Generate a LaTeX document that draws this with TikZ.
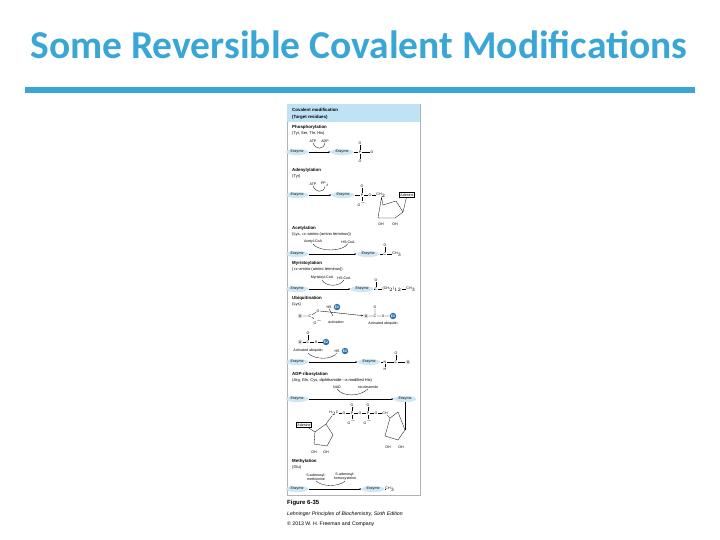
\documentclass[tikz,border=0pt]{standalone}
\usepackage{fontspec}
\setmainfont{Carlito}
\newfontfamily\panelfont{Liberation Sans}
\definecolor{ttl}{HTML}{3AA6D6}
\definecolor{hdr}{HTML}{BFE3F5}
\definecolor{enz}{HTML}{CFE6F5}
\definecolor{ub}{HTML}{2E6FA8}
\begin{document}
\begin{tikzpicture}[x=1pt,y=-1pt,
  tx/.style={font=\panelfont\fontsize{4}{4.5}\selectfont,inner sep=0pt,anchor=west},
  bt/.style={font=\panelfont\bfseries\fontsize{4.4}{5}\selectfont,inner sep=0pt,anchor=west},
  en/.style={ellipse,fill=enz,inner xsep=1.5pt,inner ysep=0.6pt,font=\panelfont\fontsize{3.6}{4}\selectfont},
  ubn/.style={circle,fill=ub,text=white,inner sep=0.6pt,font=\panelfont\bfseries\fontsize{3.4}{4}\selectfont},
  ugn/.style={circle,fill=gray!25,inner sep=0.6pt,font=\panelfont\fontsize{3.4}{4}\selectfont},
  ar/.style={-{Stealth[length=2pt]},line width=0.35pt},
  bd/.style={line width=0.3pt},
  sm/.style={font=\panelfont\fontsize{3.6}{4}\selectfont,inner sep=0.3pt}]
\usetikzlibrary{shapes.geometric,arrows.meta}
\useasboundingbox (0,0) rectangle (720,540);
\node[text=ttl,font=\bfseries\fontsize{39.5}{44}\selectfont] (title) at (359,45) {Some Reversible Covalent Modifications};
\draw[ttl,line width=6pt] (25,90) -- (695,90);
% panel
\draw[fill=white,draw=gray!60,line width=0.4pt] (287,104) rectangle (420,495);
\fill[hdr] (287,104) rectangle (420,122);
\node[bt] (h1) at (292,110) {Covalent modification};
\node[bt] (h2) at (292,117) {(Target residues)};
% Phosphorylation
\node[bt] (p1) at (292,127) {Phosphorylation};
\node[tx] (p2) at (292,133) {(Tyr, Ser, Thr, His)};
\node[sm] (patp) at (313,141) {ATP};
\node[sm] (padp) at (325,141) {ADP};
\node[en] (pe1) at (297,152) {Enzyme};
\node[en] (pe2) at (342,152) {Enzyme};
\draw[ar] (pe1) -- (pe2);
\draw[bd] (patp.south) .. controls (315,150) and (324,150) .. (padp.south);
\node[sm] (pP) at (360,152) {P};
\node[sm] (pO1) at (360,143) {O};
\node[sm] (pO2) at (360,161) {O};
\node[sm] (pO3) at (372,152) {O};
\draw[bd] (pe2) -- (pP) (pP) -- (pO1) (pP) -- (pO2) (pP) -- (pO3);
% Adenylylation
\node[bt] (a1) at (292,170) {Adenylylation};
\node[tx] (a2) at (292,176) {(Tyr)};
\node[sm] (aatp) at (313,184) {ATP};
\node[sm] (appi) at (325,184) {PP$_i$};
\node[en] (ae1) at (297,195) {Enzyme};
\node[en] (ae2) at (343,195) {Enzyme};
\draw[ar] (ae1) -- (ae2);
\draw[bd] (aatp.south) .. controls (315,193) and (324,193) .. (appi.south);
\node[sm] (aP) at (362,195) {P};
\node[sm] (aO1) at (362,186) {O};
\node[sm] (aO2) at (362,204) {O$^-$};
\node[sm] (aO3) at (370,195) {O};
\node[sm] (aC) at (381,195) {CH$_2$};
\node[draw,sm,inner sep=1pt] (aad) at (407,195) {Adenine};
\draw[bd] (ae2) -- (aP) (aP) -- (aO1) (aP) -- (aO2) (aP) -- (aO3) (aO3) -- (aC);
\coordinate (r1) at (383,205); \coordinate (r2) at (396,201); \coordinate (r3) at (403,212);
\coordinate (r4) at (395,218); \coordinate (r5) at (378,218);
\draw[bd] (aC) -- (r1) -- (r2) -- (r3) -- (r4) -- (r5) -- cycle;
\draw[bd] (r3) -- (aad);
\node[sm] (aoh1) at (381,224) {OH};
\node[sm] (aoh2) at (395,224) {OH};
% Acetylation
\node[bt] (c1) at (292,228) {Acetylation};
\node[tx] (c2) at (292,234) {(Lys, $\alpha$-amino (amino terminus))};
\node[sm] (cac) at (313,242) {Acetyl-CoA};
\node[sm] (chs) at (348,242) {HS-CoA};
\node[en] (ce1) at (297,254) {Enzyme};
\node[en] (ce2) at (368,254) {Enzyme};
\draw[ar] (ce1) -- (ce2);
\draw[bd] (cac.south) .. controls (320,252) and (342,252) .. (chs.south);
\node[sm] (cC) at (385,254) {C};
\node[sm] (cO) at (385,245) {O};
\node[sm] (cM) at (397,254) {CH$_3$};
\draw[bd] (ce2) -- (cC) (cC) -- (cO) (cC) -- (cM);
% Myristoylation
\node[bt] (m1) at (292,263) {Myristoylation};
\node[tx] (m2) at (292,269) {($\alpha$-amino (amino terminus))};
\node[sm] (mmc) at (322,278) {Myristoyl-CoA};
\node[sm] (mhs) at (344,278) {HS-CoA};
\node[en] (me1) at (297,289) {Enzyme};
\node[en] (me2) at (362,289) {Enzyme};
\draw[ar] (me1) -- (me2);
\draw[bd] (mmc.south) .. controls (326,287) and (340,287) .. (mhs.south);
\node[sm] (mC) at (376,289) {C};
\node[sm] (mO) at (376,280) {O};
\node[sm] (mch) at (392,289) {(CH$_2$)$_{12}$};
\node[sm] (mM) at (411,289) {CH$_3$};
\draw[bd] (me2) -- (mC) (mC) -- (mO) (mC) -- (mch) (mch) -- (mM);
% Ubiquitination
\node[bt] (u1) at (292,298) {Ubiquitination};
\node[tx] (u2) at (292,304) {(Lys)};
\node[ugn] (uu1) at (300,316) {U};
\node[sm] (uC1) at (310,316) {C};
\node[sm] (uO1) at (318,311) {O};
\node[sm] (uO2) at (318,322) {O$^-$};
\node[sm] (uhs) at (329,307) {HS};
\node[ubn] (ue1) at (337,307) {E2};
\node[sm] (uact) at (336,322) {activation};
\node[ugn] (uu2) at (366,316) {U};
\node[sm] (uC2) at (375,316) {C};
\node[sm] (uO3) at (375,307) {O};
\node[sm] (uS) at (383,316) {S};
\node[ubn] (ue2) at (393,316) {E2};
\node[sm] (uav) at (383,324) {Activated ubiquitin};
\draw[bd] (uu1) -- (uC1) (uC1) -- (uO1) (uC1) -- (uO2) (uu2) -- (uC2) (uC2) -- (uO3) (uC2) -- (uS) (uS) -- (ue2);
\draw[ar] (uO1.east) -- (uu2);
\draw[bd] (uhs.south) .. controls (332,314) and (333,316) .. (333,316);
\node[ugn] (uu3) at (300,342) {U};
\node[sm] (uC3) at (308,342) {C};
\node[sm] (uO4) at (308,333) {O};
\node[sm] (uS2) at (316,342) {S};
\node[ubn] (ue3) at (326,342) {E2};
\draw[bd] (uu3) -- (uC3) (uC3) -- (uO4) (uC3) -- (uS2) (uS2) -- (ue3);
\node[sm] (uau) at (308,351) {Activated ubiquitin};
\node[sm] (uhs2) at (337,351) {HS};
\node[ubn] (ue4) at (345,351) {E2};
\node[en] (ue5) at (297,362) {Enzyme};
\node[en] (ue6) at (369,362) {Enzyme};
\draw[ar] (ue5) -- (ue6);
\draw[bd] (uau.south) .. controls (315,360) and (332,360) .. (uhs2.south);
\node[sm] (uN) at (385,362) {N};
\node[sm] (uH) at (385,369) {H};
\node[sm] (uC4) at (396,362) {C};
\node[sm] (uO5) at (396,353) {O};
\node[ugn] (uu4) at (408,362) {U};
\draw[bd] (ue6) -- (uN) (uN) -- (uH) (uN) -- (uC4) (uC4) -- (uO5) (uC4) -- (uu4);
% ADP-ribosylation
\node[bt] (d1) at (292,374) {ADP-ribosylation};
\node[tx] (d2) at (292,380) {(Arg, Gln, Cys, diphthamide---a modified His)};
\node[sm] (dnad) at (337,387) {NAD};
\node[sm] (dnic) at (368,387) {nicotinamide};
\node[en] (de1) at (297,399) {Enzyme};
\node[en] (de2) at (405,399) {Enzyme};
\draw[ar] (de1) -- (de2);
\draw[bd] (dnad.south) .. controls (342,397) and (360,397) .. (dnic.south);
\node[sm] (dC) at (334,413) {H$_2$C};
\node[sm] (dO1) at (344,413) {O};
\node[sm] (dP1) at (352,413) {P};
\node[sm] (dP1a) at (352,405) {O};
\node[sm] (dP1b) at (352,422) {O$^-$};
\node[sm] (dO2) at (360,413) {O};
\node[sm] (dP2) at (368,413) {P};
\node[sm] (dP2a) at (368,405) {O};
\node[sm] (dP2b) at (368,422) {O$^-$};
\node[sm] (dO3) at (376,413) {O};
\node[sm] (dC2) at (385,413) {CH};
\draw[bd] (dC) -- (dO1) -- (dP1) -- (dO2) -- (dP2) -- (dO3) -- (dC2) (dP1) -- (dP1a) (dP1) -- (dP1b) (dP2) -- (dP2a) (dP2) -- (dP2b);
\draw[bd] (de2) -- (405,430);
\coordinate (s1) at (390,418); \coordinate (s2) at (398,412); \coordinate (s3) at (405,430);
\coordinate (s4) at (398,440); \coordinate (s5) at (385,436);
\draw[bd] (dC2) -- (s1) -- (s2) (s1) -- (s5) -- (s4) -- (s3) -- (s2);
\node[sm] (doh1) at (388,447) {OH}; \node[sm] (doh2) at (401,447) {OH};
\node[draw,sm,inner sep=1pt] (dad) at (304,425) {Adenine};
\coordinate (t1) at (315,432); \coordinate (t2) at (326,424); \coordinate (t3) at (333,435);
\coordinate (t4) at (327,446); \coordinate (t5) at (314,444);
\draw[bd] (t1) -- (t2) -- (t3) -- (t4) -- (t5) -- cycle (dad) -- (t1) (t2) -- (dC);
\node[sm] (toh1) at (314,452) {OH}; \node[sm] (toh2) at (326,452) {OH};
% Methylation
\node[bt] (e1) at (292,461) {Methylation};
\node[tx] (e2) at (292,467) {(Glu)};
\node[sm,align=center] (esam) at (316,477) {S-adenosyl-\\methionine};
\node[sm,align=center] (esah) at (345,477) {S-adenosyl-\\homocysteine};
\node[en] (ee1) at (297,489) {Enzyme};
\node[en] (ee2) at (373,489) {Enzyme};
\draw[ar] (ee1) -- (ee2);
\draw[bd] (esam.south) .. controls (322,487) and (338,487) .. (esah.south);
\node[sm] (eM) at (390,489) {CH$_3$};
\draw[bd] (ee2) -- (eM);
% caption
\node[anchor=west,inner sep=0pt,font=\panelfont\bfseries\fontsize{6}{7}\selectfont] (f1) at (287,503) {Figure 6-35};
\node[anchor=west,inner sep=0pt,font=\panelfont\itshape\fontsize{5.2}{6}\selectfont] (f2) at (287,514) {Lehninger Principles of Biochemistry, Sixth Edition};
\node[anchor=west,inner sep=0pt,font=\panelfont\fontsize{5.2}{6}\selectfont] (f3) at (287,524) {\textcopyright{} 2013 W. H. Freeman and Company};
\end{tikzpicture}
\end{document}
